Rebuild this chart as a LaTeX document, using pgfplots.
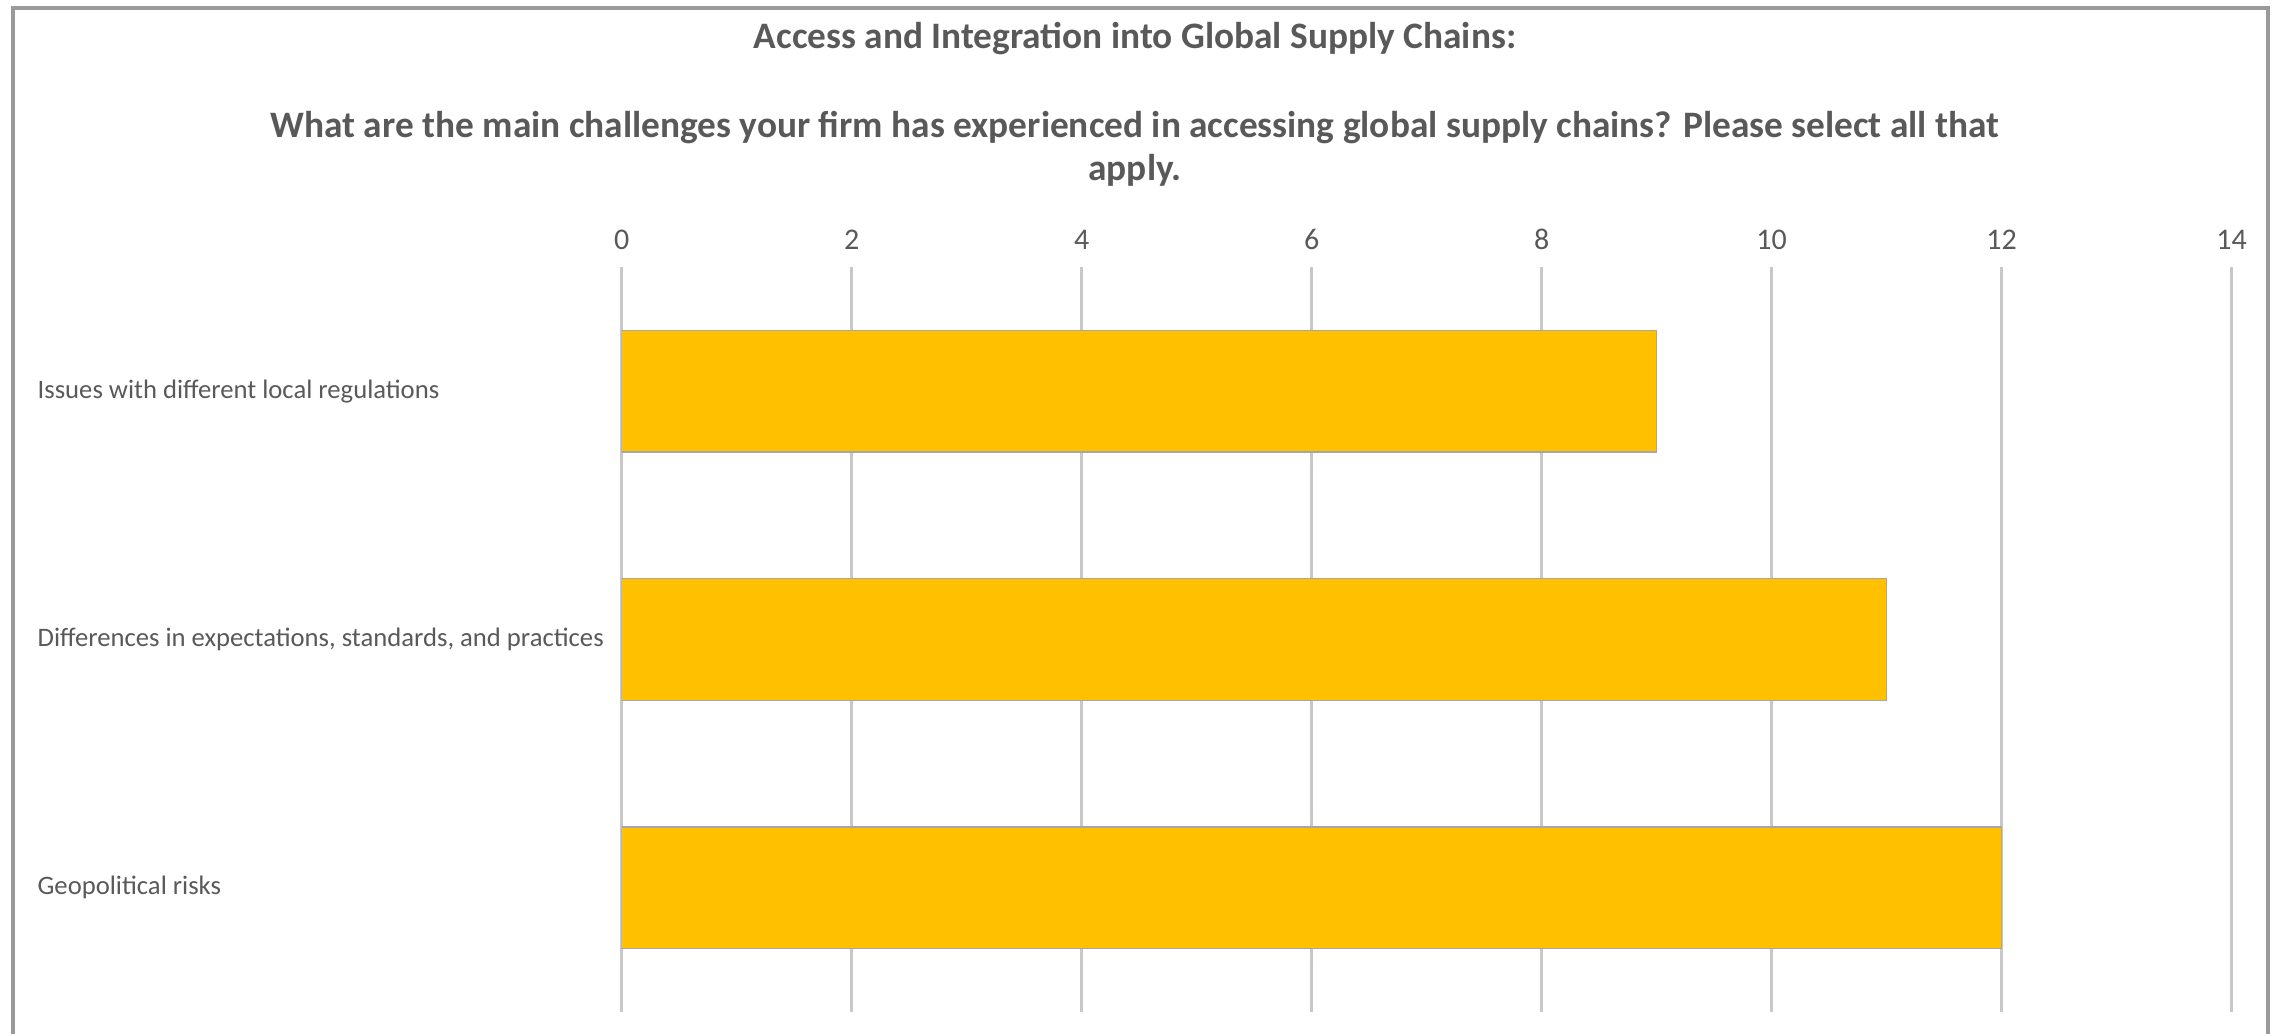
\documentclass[border=0pt]{standalone}
\usepackage{pgfplots}
\pgfplotsset{compat=1.18}
\usepackage{fontspec}
\setmainfont{Carlito}
\definecolor{txt}{HTML}{595959}
\definecolor{barc}{HTML}{FFC000}
\definecolor{gridc}{HTML}{C8C8C8}
\definecolor{framec}{HTML}{9A9A9A}
\begin{document}
\begin{tikzpicture}
\begin{axis}[
  at={(0pt,0pt)}, anchor=south west,
  scale only axis,
  width=483pt, height=223.5pt,
  xbar, bar width=0.49,
  xmin=0, xmax=14,
  xtick={0,2,...,14},
  ymin=-0.5, ymax=2.5,
  y dir=reverse,
  ytick={0,1,2},
  yticklabels={Issues with different local regulations,{Differences in expectations, standards, and practices},Geopolitical risks},
  xticklabel pos=upper,
  xmajorgrids,
  major grid style={draw=gridc, line width=0.9pt},
  axis line style={draw=none},
  major tick length=0pt,
  tick style={draw=none},
  xticklabel style={font=\fontsize{9}{10}\selectfont, text=txt, yshift=1.7pt},
  yticklabel style={font=\fontsize{8}{9}\selectfont, text=txt, anchor=west, inner sep=0pt, xshift=-175.4pt},
  /pgf/number format/assume math mode=true,
]
\addplot[fill=barc, draw=gray!70, line width=0.4pt] coordinates {(9,0) (11,1) (12,2)};
\end{axis}
\draw[framec, line width=1.2pt] (-182.46pt,-6.6pt) -- (-182.46pt,301.2pt) -- (493.9pt,301.2pt) -- (493.9pt,-6.6pt);
\node[font=\bfseries\fontsize{11.2}{12.9}\selectfont, text=txt] at (154pt,292.0pt) {Access and Integration into Global Supply Chains:};
\node[font=\bfseries\fontsize{11.2}{12.9}\selectfont, text=txt, align=center] at (154pt,259.0pt) {What are the main challenges your firm has experienced in accessing global supply chains? Please select all that\\apply.};
\pgfresetboundingbox
\path (-186.5pt,-6.6pt) rectangle (497.5pt,303.6pt);
\end{tikzpicture}
\end{document}
